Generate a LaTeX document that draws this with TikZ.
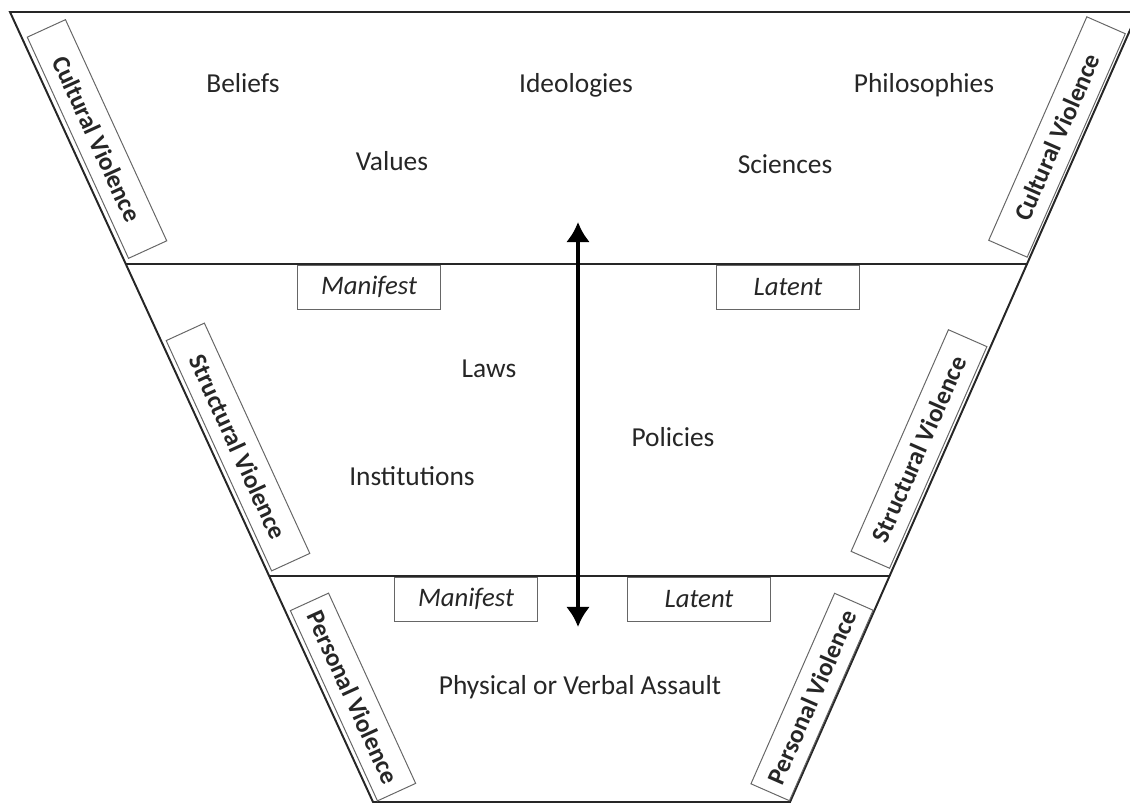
\documentclass[tikz,border=0pt]{standalone}
\usepackage{fontspec}
\setmainfont{Carlito}
\usetikzlibrary{positioning,arrows.meta}

\begin{document}
\begin{tikzpicture}
	[   x=0.025cm,y=0.025cm,
	    word/.style={text=black!85,font=\fontsize{19.5}{23}\selectfont,text height=0.7em,text depth=0.2em,yshift=-0.13cm},
	    sidebox/.style={draw=black!60,line width=0.7pt,minimum height=1.05cm,minimum width=#1,inner sep=0pt,text=black!85,font=\fontsize{18}{21}\selectfont\bfseries},
	    tagbox/.style={draw=black!60,line width=0.7pt,minimum width=3.55cm,minimum height=1.1cm,inner sep=0pt,text=black!85,font=\fontsize{19}{22}\selectfont\itshape},
	]
	\tikzset{normal arrow/.style={draw,line width=3pt,{Latex[length=0.5cm,width=0.6cm]}-{Latex[length=0.5cm,width=0.6cm]}}}
	\useasboundingbox (0,0) rectangle (1130,-806);
	
	% funnel outline
	\coordinate (tl) at (10,-12);
	\coordinate (tr) at (1138,-12);
	\coordinate (ml) at (126,-264);
	\coordinate (mr) at (1027,-264);
	\coordinate (ll) at (269,-576);
	\coordinate (lr) at (890,-576);
	\coordinate (bl) at (373,-802);
	\coordinate (br) at (790,-802);
	\draw[line width=1.4pt,black!85] (tl) -- (tr) -- (br) -- (bl) -- cycle;
	\draw[line width=1.4pt,black!85] (ml) -- (mr);
	\draw[line width=1.4pt,black!85] (ll) -- (lr);
	
	% words in the layers
	\foreach \n/\t/\x/\y in {beliefs/Beliefs/243/84, ideol/Ideologies/576/84, philo/Philosophies/924/84,
		values/Values/392/162, sciences/Sciences/785/165,
		laws/Laws/489/369, policies/Policies/673/438, inst/Institutions/412/477,
		assault/Physical or Verbal Assault/580/686}
	{
		\node[word] (\n) at (\x,-\y) {\t};
	}
	
	% side labels
	\node[sidebox=6.08cm,rotate=-65.4] (cv-l) at (97,-139) {Cultural Violence};
	\node[sidebox=6.33cm,rotate=-65.4] (sv-l) at (238,-447) {Structural Violence};
	\node[sidebox=5.23cm,rotate=-65.4] (pv-l) at (353,-697) {Personal Violence};
	\node[sidebox=6.1cm,rotate=66.3] (cv-r) at (1057,-137) {Cultural Violence};
	\node[sidebox=6.05cm,rotate=66.3] (sv-r) at (919,-449) {Structural Violence};
	\node[sidebox=5.2cm,rotate=66.3] (pv-r) at (812,-697) {Personal Violence};
	
	% manifest / latent tags
	\node[tagbox] (man-1) at (369,-287) {Manifest};
	\node[tagbox] (lat-1) at (788,-287) {Latent};
	\node[tagbox] (man-2) at (466,-599) {Manifest};
	\node[tagbox] (lat-2) at (699,-599) {Latent};
	
	\coordinate (up) at (578,-222);
	\coordinate (down) at (578,-627);
	\path[normal arrow] (up) -- (down);
\end{tikzpicture}
\end{document}
